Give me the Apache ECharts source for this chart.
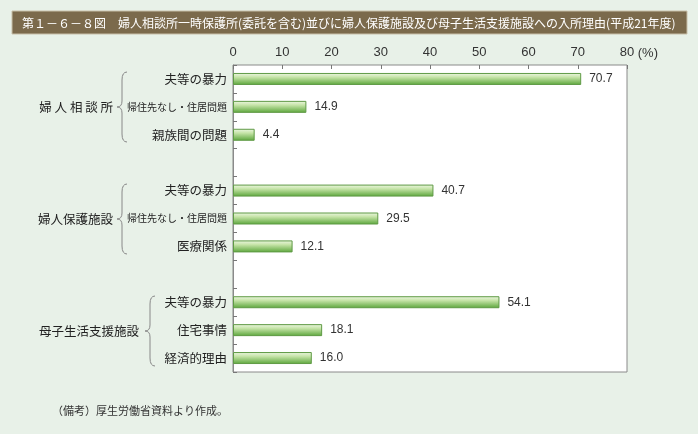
<!DOCTYPE html>
<html><head><meta charset="utf-8">
<script src="https://cdn.jsdelivr.net/npm/echarts@6/dist/echarts.min.js"></script>
<style>html,body{margin:0;padding:0;background:#e8f1e8;}#c{width:698px;height:434px;}</style>
</head><body><div id="c"></div>
<script>
var titleText = '第１－６－８図　婦人相談所一時保護所(委託を含む)並びに婦人保護施設及び母子生活支援施設への入所理由(平成21年度)';
var categories = ['夫等の暴力','帰住先なし・住居問題','親族間の問題','',
                  '夫等の暴力','帰住先なし・住居問題','医療関係',' ',
                  '夫等の暴力','住宅事情','経済的理由'];
var values = [70.7,14.9,4.4,null,40.7,29.5,12.1,null,54.1,18.1,16.0];
var valueLabels = ['70.7','14.9','4.4','','40.7','29.5','12.1','','54.1','18.1','16.0'];
var groups = ['婦 人 相 談 所','婦人保護施設','母子生活支援施設'];
var note = '（備考）厚生労働省資料より作成。';

var chart = echarts.init(document.getElementById('c'));
var FONT = '"Noto Sans CJK JP","Noto Sans",sans-serif';
var NUMF = '"Liberation Sans",Arial,sans-serif';
function brace(x, y1, y2, w){
  var m=(y1+y2)/2, st={stroke:'#888',lineWidth:1,fill:null};
  return [
    {type:'bezierCurve',shape:{x1:x+w,y1:y1,cpx1:x,cpy1:y1,x2:x,y2:y1+8},style:st},
    {type:'line',shape:{x1:x,y1:y1+8,x2:x,y2:m-6},style:st},
    {type:'bezierCurve',shape:{x1:x,y1:m-6,cpx1:x,cpy1:m,x2:x-w,y2:m},style:st},
    {type:'bezierCurve',shape:{x1:x-w,y1:m,cpx1:x,cpy1:m,x2:x,y2:m+6},style:st},
    {type:'line',shape:{x1:x,y1:m+6,x2:x,y2:y2-8},style:st},
    {type:'bezierCurve',shape:{x1:x,y1:y2-8,cpx1:x,cpy1:y2,x2:x+w,y2:y2},style:st}
  ];
}
var gr = [
  {type:'rect',shape:{x:12,y:11,width:675,height:23},style:{fill:'#7b6a4c',stroke:'#c8bfa8',lineWidth:1}},
  {type:'text',x:22,y:23,style:{text:titleText,fill:'#ffffff',fontSize:12,fontFamily:FONT,textVerticalAlign:'middle'}},
  {type:'text',x:658,y:53,style:{text:'(%)',fill:'#333',fontSize:13,fontFamily:NUMF,textAlign:'right',textVerticalAlign:'middle'}},
  {type:'text',x:113,y:107,style:{text:groups[0],fill:'#222',fontSize:12.5,fontFamily:FONT,textAlign:'right',textVerticalAlign:'middle'}},
  {type:'text',x:113,y:219,style:{text:groups[1],fill:'#222',fontSize:12.5,fontFamily:FONT,textAlign:'right',textVerticalAlign:'middle'}},
  {type:'text',x:139,y:331,style:{text:groups[2],fill:'#222',fontSize:12.5,fontFamily:FONT,textAlign:'right',textVerticalAlign:'middle'}},
  {type:'text',x:52,y:411,style:{text:note,fill:'#333',fontSize:11,fontFamily:FONT,textVerticalAlign:'middle'}}
].concat(brace(122,72,142,5), brace(122,184,254,5), brace(150,296,366,5));

chart.setOption({
  backgroundColor:'#e8f1e8',
  animation:false,
  grid:{left:233,right:71,top:65,bottom:62,show:true,backgroundColor:'#ffffff',borderColor:'#8a8a8a',borderWidth:1},
  xAxis:{type:'value',position:'top',min:0,max:80,interval:10,
    axisLine:{show:false},splitLine:{show:false},
    axisTick:{show:true,inside:true,length:4,lineStyle:{color:'#777'}},
    axisLabel:{color:'#333',fontSize:13,fontFamily:NUMF,margin:6}},
  yAxis:{type:'category',inverse:true,data:categories,
    axisLine:{show:true,lineStyle:{color:'#8a8a8a'}},
    axisTick:{show:true,inside:true,length:4,lineStyle:{color:'#777'}},
    axisLabel:{margin:6,color:'#222',fontFamily:FONT,fontSize:12.5,
      formatter:function(v){ return v.length>6 ? '{s|'+v+'}' : v; },
      rich:{s:{fontSize:10,fontFamily:FONT,color:'#222'}}}},
  series:[{type:'bar',data:values,barWidth:12,
    itemStyle:{borderColor:'#5f9a45',borderWidth:1,
      color:new echarts.graphic.LinearGradient(0,0,0,1,[
        {offset:0,color:'#eef7e4'},{offset:0.35,color:'#c6e4a8'},{offset:1,color:'#5aa53a'}])},
    label:{show:true,position:'right',distance:8,color:'#333',fontSize:12,fontFamily:NUMF,
      formatter:function(p){return valueLabels[p.dataIndex];}}}],
  graphic:gr
});
</script></body></html>
